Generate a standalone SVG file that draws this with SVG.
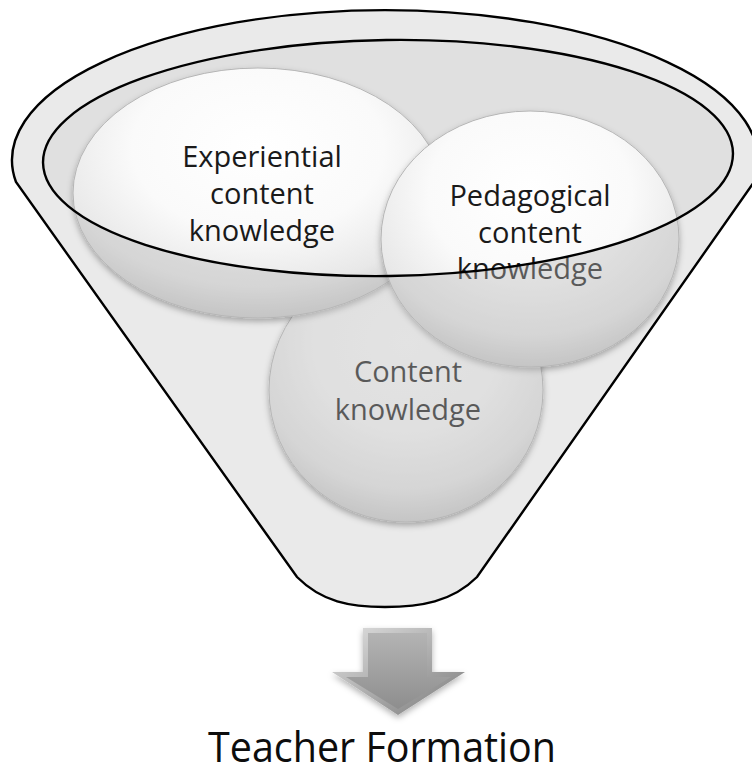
<svg xmlns="http://www.w3.org/2000/svg" width="752" height="774" viewBox="0 0 752 774">
<style>
.lbl{font-family:"Open Sans","Noto Sans","Liberation Sans",sans-serif;font-size:29px;fill:#1a1a1a;text-anchor:middle}
.big{font-family:"Open Sans","Noto Sans","Liberation Sans",sans-serif;font-size:42px;fill:#0d0d0d;text-anchor:middle}
.outline{fill:none;stroke:#000;stroke-width:2.4}
.ball{fill:url(#ballGrad);stroke:#b5b5b5;stroke-width:1;filter:url(#shadow)}
</style>
<defs>
<radialGradient id="ballGrad" cx="50%" cy="32%" r="68%">
<stop offset="0" stop-color="#ffffff"/>
<stop offset="0.5" stop-color="#fafafa"/>
<stop offset="0.82" stop-color="#e8e8e8"/>
<stop offset="1" stop-color="#cdcdcd"/>
</radialGradient>
<linearGradient id="arrowGrad" x1="0" y1="0" x2="0" y2="1">
<stop offset="0" stop-color="#b4b4b4"/>
<stop offset="1" stop-color="#8e8e8e"/>
</linearGradient>
<linearGradient id="bevelGrad" x1="0" y1="0" x2="1" y2="1">
<stop offset="0" stop-color="#e2e2e2"/>
<stop offset="1" stop-color="#7a7a7a"/>
</linearGradient>
<filter id="shadow" x="-20%" y="-20%" width="140%" height="140%">
<feDropShadow dx="0" dy="3" stdDeviation="3" flood-color="#000" flood-opacity="0.3"/>
</filter>
<clipPath id="outsideInner">
<path clip-rule="evenodd" d="M0,0 H752 V774 H0 Z M43.03,162.82 A345 118 -0.8 1 1 732.97,153.18 A345 118 -0.8 1 1 43.03,162.82 Z"/>
</clipPath>
</defs>
<g id="funnel">
<path id="funnel-body" d="M16,182 A373 150 0 1 1 754,182 L477,577 C452,602 420,607 385,607 C350,607 322,602 297,577 Z" fill="#eaeaea"/>
<path id="funnel-inner" d="M43.03,162.82 A345 118 -0.8 1 1 732.97,153.18 A345 118 -0.8 1 1 43.03,162.82 Z" fill="#e0e0e0"/>
</g>
<g id="node-content">
<ellipse class="ball" cx="406" cy="390" rx="137" ry="132"/>
<text class="lbl" x="408" y="382">Content</text>
<text class="lbl" x="408" y="420">knowledge</text>
</g>
<g id="node-experiential">
<ellipse class="ball" cx="258" cy="193" rx="185" ry="125"/>
<text class="lbl" x="262" y="167">Experiential</text>
<text class="lbl" x="262" y="204">content</text>
<text class="lbl" x="262" y="241">knowledge</text>
</g>
<g id="node-pedagogical">
<ellipse class="ball" cx="530" cy="239" rx="149" ry="128"/>
<text class="lbl" x="530" y="206">Pedagogical</text>
<text class="lbl" x="530" y="242.5">content</text>
<text class="lbl" x="530" y="279">knowledge</text>
</g>
<g id="funnel-front">
<path clip-path="url(#outsideInner)" fill="#b8b8b8" fill-opacity="0.4" d="M269,390 A137 132 0 1 0 543,390 A137 132 0 1 0 269,390 Z M73,193 A185 125 0 1 0 443,193 A185 125 0 1 0 73,193 Z M381,239 A149 128 0 1 0 679,239 A149 128 0 1 0 381,239 Z"/>
<path class="outline" d="M16,182 A373 150 0 1 1 754,182 L477,577 C452,602 420,607 385,607 C350,607 322,602 297,577 Z"/>
<path class="outline" d="M43.03,162.82 A345 118 -0.8 1 1 732.97,153.18 A345 118 -0.8 1 1 43.03,162.82 Z"/>
</g>
<g id="connectors">
<g id="arrow" filter="url(#shadow)">
<polygon points="363,628 432,628 432,672 465,672 398,715 332,672 363,672" fill="url(#bevelGrad)"/>
<polygon points="368,633 427,633 427,677 451,677 398,709 346,677 368,677" fill="url(#arrowGrad)"/>
</g>
</g>
<g id="label-teacher-formation">
<text class="big" x="382" y="762" textLength="348" lengthAdjust="spacingAndGlyphs">Teacher Formation</text>
</g>
</svg>
